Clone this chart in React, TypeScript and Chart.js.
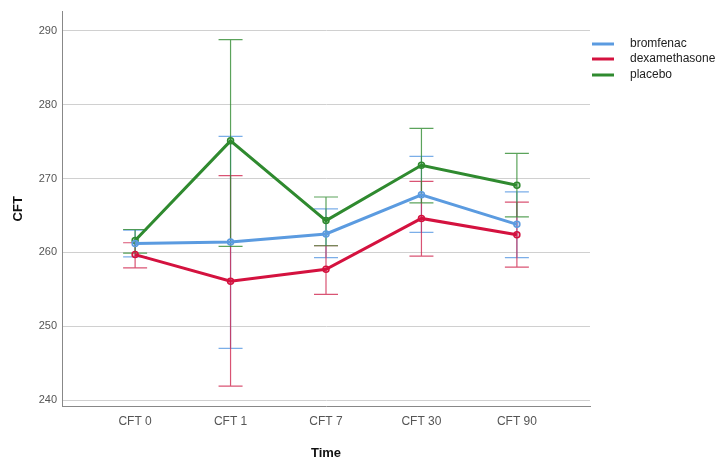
import React, { useEffect, useRef } from "react";
import { Chart, registerables } from "chart.js";

Chart.register(...registerables);

const categories = ["CFT 0", "CFT 1", "CFT 7", "CFT 30", "CFT 90"];
const yTicks = [240, 250, 260, 270, 280, 290];

const bromfenacMean = [261.2, 261.4, 262.5, 267.8, 263.8];
const bromfenacUpper = [263.0, 275.7, 265.9, 273.0, 268.2];
const bromfenacLower = [259.4, 247.0, 259.3, 262.7, 259.3];

const dexaMean = [259.7, 256.1, 257.7, 264.6, 262.4];
const dexaUpper = [261.3, 270.4, 260.9, 269.6, 266.8];
const dexaLower = [257.9, 241.9, 254.3, 259.5, 258.0];

const placeboMean = [261.6, 275.1, 264.3, 271.8, 269.1];
const placeboUpper = [263.1, 288.8, 267.5, 276.8, 273.4];
const placeboLower = [259.9, 260.8, 260.9, 266.7, 264.8];

const seriesNames = ["bromfenac", "dexamethasone", "placebo"];

const FONT = "'Liberation Sans', Arial, sans-serif";
const COLORS = ["#5b9be0", "#d4123f", "#2f8a2f"];
const POINT_FILL = ["rgba(91,155,224,0.35)", "rgba(212,18,63,0.3)", "rgba(47,138,47,0.35)"];
const ERR_COLORS = ["rgba(100,160,228,0.85)", "rgba(208,40,80,0.8)", "rgba(50,140,50,0.8)"];

const SERIES = [
  { name: seriesNames[0], mean: bromfenacMean, upper: bromfenacUpper, lower: bromfenacLower },
  { name: seriesNames[1], mean: dexaMean, upper: dexaUpper, lower: dexaLower },
  { name: seriesNames[2], mean: placeboMean, upper: placeboUpper, lower: placeboLower },
];

const errorBars = {
  id: "errorBars",
  beforeDatasetsDraw(chart: any) {
    const { ctx, scales } = chart;
    const x = scales.x;
    const y = scales.y;
    SERIES.forEach((s, si) => {
      ctx.save();
      ctx.strokeStyle = ERR_COLORS[si];
      ctx.lineWidth = 1.2;
      s.upper.forEach((u, i) => {
        const px = x.getPixelForValue(i);
        const yt = y.getPixelForValue(u);
        const yb = y.getPixelForValue(s.lower[i]);
        ctx.beginPath();
        ctx.moveTo(px, yt);
        ctx.lineTo(px, yb);
        ctx.moveTo(px - 12, yt);
        ctx.lineTo(px + 12, yt);
        ctx.moveTo(px - 12, yb);
        ctx.lineTo(px + 12, yb);
        ctx.stroke();
      });
      ctx.restore();
    });
  },
};

const decorations = {
  id: "decorations",
  afterDraw(chart: any) {
    const { ctx, chartArea } = chart;
    ctx.save();
    ctx.fillStyle = "#111";
    ctx.font = `bold 13px ${FONT}`;
    ctx.textAlign = "center";
    ctx.textBaseline = "middle";
    ctx.fillText("Time", (chartArea.left + chartArea.right) / 2, 453);
    ctx.save();
    ctx.translate(18, (chartArea.top + chartArea.bottom) / 2);
    ctx.rotate(-Math.PI / 2);
    ctx.fillText("CFT", 0, 0);
    ctx.restore();
    const ys = [44, 59, 75];
    ctx.font = `12px ${FONT}`;
    ctx.textAlign = "left";
    SERIES.forEach((s, i) => {
      ctx.strokeStyle = COLORS[i];
      ctx.lineWidth = 3;
      ctx.beginPath();
      ctx.moveTo(592, ys[i]);
      ctx.lineTo(614, ys[i]);
      ctx.stroke();
      ctx.fillStyle = "#222";
      ctx.fillText(s.name, 630, ys[i]);
    });
    ctx.restore();
  },
};

export default function App() {
  const ref = useRef<HTMLCanvasElement | null>(null);
  useEffect(() => {
    if (!ref.current) return;
    const chart = new Chart(ref.current, {
      type: "line",
      data: {
        datasets: SERIES.map((s, i) => ({
          label: s.name,
          data: s.mean.map((v, k) => ({ x: k, y: v })),
          borderColor: COLORS[i],
          borderWidth: 3,
          pointRadius: 3,
          pointBorderWidth: 1.5,
          pointBorderColor: COLORS[i],
          pointBackgroundColor: POINT_FILL[i],
          tension: 0,
          fill: false,
        })),
      },
      options: {
        animation: false,
        responsive: false,
        layout: { padding: { left: 0, right: 137, top: 10, bottom: 0 } },
        plugins: { legend: { display: false }, tooltip: { enabled: false } },
        scales: {
          x: {
            type: "linear",
            min: -0.766,
            max: 4.766,
            afterFit: (s: any) => {
              s.height = 62;
            },
            afterBuildTicks: (s: any) => {
              s.ticks = categories.map((_, i) => ({ value: i }));
            },
            ticks: {
              callback: (v: any) => categories[v as number] ?? "",
              color: "#555",
              font: { family: FONT, size: 12 },
              padding: 8,
              maxRotation: 0,
            },
            grid: { display: false, drawTicks: false },
            border: { display: true, color: "#888", width: 1 },
          },
          y: {
            min: 239.2,
            max: 292.6,
            afterFit: (s: any) => {
              s.width = 62;
            },
            afterBuildTicks: (s: any) => {
              s.ticks = yTicks.map((v) => ({ value: v }));
            },
            ticks: {
              color: "#555",
              font: { family: FONT, size: 11 },
              padding: 5,
            },
            grid: { color: "#d0d0d0", drawTicks: false, lineWidth: 1 },
            border: { display: true, color: "#888", width: 1 },
          },
        },
      },
      plugins: [errorBars, decorations],
    });
    return () => chart.destroy();
  }, []);
  return (
    <div style={{ position: "fixed", left: 0, top: 0, width: 727, height: 468, background: "#fff" }}>
      <canvas ref={ref} width={727} height={468} style={{ width: 727, height: 468 }} />
    </div>
  );
}
